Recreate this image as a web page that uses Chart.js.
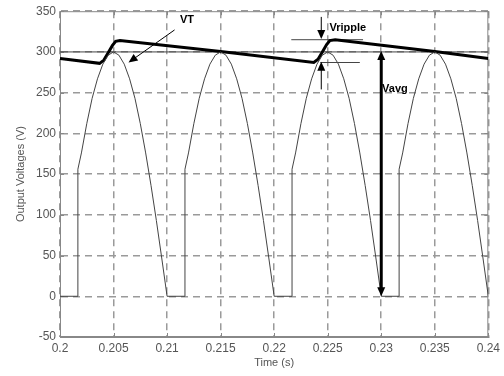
<!DOCTYPE html>
<html>
<head>
<meta charset="utf-8">
<script src="https://cdn.jsdelivr.net/npm/chart.js@4"></script>
<style>
  html, body { margin: 0; padding: 0; background: #fff; }
  #wrap { width: 504px; height: 376px; }
</style>
</head>
<body>
<div id="wrap"><canvas id="chart"></canvas></div>
<script>
// one phase-controlled half cycle, time offsets from the start of each 10 ms period
const humpOffsets = [0, 0.00167, 0.00167, 0.002, 0.0025, 0.003, 0.0035, 0.004, 0.0045, 0.005,
                     0.0055, 0.006, 0.0065, 0.007, 0.0075, 0.008, 0.0085, 0.009, 0.0095, 0.01];
const humpVolts   = [0, 0, 156, 176, 212, 243, 267, 285, 296, 300,
                     296, 285, 267, 243, 212, 176, 136, 93, 47, 0];
const periodStarts = [0.2, 0.21, 0.22, 0.23];

// VT (thick trace)
const vtTime  = [0.2, 0.2037, 0.2041, 0.2045, 0.2049, 0.2052, 0.2056, 0.215, 0.2237,
                 0.2241, 0.2245, 0.2249, 0.2252, 0.2257, 0.235, 0.24];
const vtVolts = [292, 286, 290, 299, 308, 313, 314, 300.5, 287,
                 291, 300, 309, 314, 315, 300.5, 292];

// reference levels
const refLevel = 300;
const rippleTop = 315;
const rippleBottom = 287;

// x and y tick labels
const xTicks = [0.2, 0.205, 0.21, 0.215, 0.22, 0.225, 0.23, 0.235, 0.24];
const yTicks = [-50, 0, 50, 100, 150, 200, 250, 300, 350];

// annotations in data units, arrow head at "to"
const arrows = [
  { from: [0.2244, 343], to: [0.2244, 316], width: 1, both: false },
  { from: [0.2244, 254], to: [0.2244, 288], width: 1, both: false },
  { from: [0.23, 0],     to: [0.23, 301],   width: 3, both: true },
  { from: [0.2107, 327], to: [0.2064, 287], width: 1, both: false }
];
const notes = [
  { text: 'VT',      x: 0.2112,  y: 339 },
  { text: 'Vripple', x: 0.22516, y: 329 },
  { text: 'Vavg',    x: 0.23008, y: 254 }
];

const wavePoints = [];
periodStarts.forEach(t0 => {
  humpOffsets.forEach((d, i) => wavePoints.push({ x: t0 + d, y: humpVolts[i] }));
});
const vtPoints = vtTime.map((t, i) => ({ x: t, y: vtVolts[i] }));

function drawArrow(ctx, x0, y0, x1, y1, w, both) {
  const ang = Math.atan2(y1 - y0, x1 - x0);
  const len = 9, half = 4;
  const head = (tx, ty, a) => {
    ctx.beginPath();
    ctx.moveTo(tx, ty);
    ctx.lineTo(tx - len * Math.cos(a) + half * Math.sin(a), ty - len * Math.sin(a) - half * Math.cos(a));
    ctx.lineTo(tx - len * Math.cos(a) - half * Math.sin(a), ty - len * Math.sin(a) + half * Math.cos(a));
    ctx.closePath();
    ctx.fill();
  };
  ctx.lineWidth = w;
  ctx.beginPath();
  ctx.moveTo(both ? x0 + (len - 2) * Math.cos(ang) : x0, both ? y0 + (len - 2) * Math.sin(ang) : y0);
  ctx.lineTo(x1 - (len - 2) * Math.cos(ang), y1 - (len - 2) * Math.sin(ang));
  ctx.stroke();
  head(x1, y1, ang);
  if (both) head(x0, y0, ang + Math.PI);
}

const overlay = {
  id: 'overlay',
  beforeDatasetsDraw(chart) {
    // frame and small inward tick marks
    const { ctx, chartArea: a, scales: { x, y } } = chart;
    ctx.save();
    ctx.strokeStyle = '#888';
    ctx.lineWidth = 1;
    ctx.strokeRect(a.left + 0.5, a.top + 0.5, a.right - a.left - 1, a.bottom - a.top - 1);
    ctx.beginPath();
    xTicks.forEach(v => {
      const px = Math.round(x.getPixelForValue(v)) + 0.5;
      ctx.moveTo(px, a.bottom); ctx.lineTo(px, a.bottom - 4);
      ctx.moveTo(px, a.top); ctx.lineTo(px, a.top + 4);
    });
    yTicks.forEach(v => {
      const py = Math.round(y.getPixelForValue(v)) + 0.5;
      ctx.moveTo(a.left, py); ctx.lineTo(a.left + 4, py);
      ctx.moveTo(a.right, py); ctx.lineTo(a.right - 4, py);
    });
    ctx.stroke();
    ctx.restore();
  },
  afterDatasetsDraw(chart) {
    const { ctx, scales: { x, y } } = chart;
    ctx.save();
    ctx.strokeStyle = '#000';
    ctx.fillStyle = '#000';
    arrows.forEach(ar => {
      drawArrow(ctx, x.getPixelForValue(ar.from[0]), y.getPixelForValue(ar.from[1]),
                x.getPixelForValue(ar.to[0]), y.getPixelForValue(ar.to[1]), ar.width, ar.both);
    });

    ctx.font = 'bold 11px "Liberation Sans", Arial, sans-serif';
    ctx.textAlign = 'left';
    ctx.textBaseline = 'middle';
    notes.forEach(n => ctx.fillText(n.text, x.getPixelForValue(n.x), y.getPixelForValue(n.y)));
    ctx.restore();
  }
};

const tickFont = { family: '"Liberation Sans", Arial, sans-serif', size: 12 };
const gridOpts = { color: '#9a9a9a', lineWidth: 1.5, drawTicks: false };
const borderOpts = { display: true, color: '#888', dash: [7, 5] };

new Chart(document.getElementById('chart'), {
  type: 'line',
  data: {
    datasets: [
      {
        data: wavePoints,
        borderColor: '#444',
        borderWidth: 1,
        pointRadius: 0
      },
      {
        data: vtPoints,
        borderColor: '#000',
        borderWidth: 3,
        pointRadius: 0
      },
      {
        data: [{ x: 0.2, y: refLevel }, { x: 0.24, y: refLevel }],
        borderColor: '#444',
        borderWidth: 1,
        pointRadius: 0
      },
      {
        data: [{ x: 0.2216, y: rippleTop }, { x: 0.2283, y: rippleTop }],
        borderColor: '#444',
        borderWidth: 1,
        pointRadius: 0
      },
      {
        data: [{ x: 0.2243, y: rippleBottom }, { x: 0.2280, y: rippleBottom }],
        borderColor: '#444',
        borderWidth: 1,
        pointRadius: 0
      }
    ]
  },
  options: {
    responsive: true,
    maintainAspectRatio: false,
    animation: false,
    layout: { padding: { top: 10, right: 13, left: 0, bottom: 0 } },
    plugins: {
      legend: { display: false },
      tooltip: { enabled: false }
    },
    scales: {
      x: {
        type: 'linear',
        min: 0.2,
        max: 0.24,
        afterBuildTicks: (scale) => { scale.ticks = xTicks.map(v => ({ value: v })); },
        afterFit: (scale) => { scale.height = 39; },
        grid: gridOpts,
        border: borderOpts,
        ticks: {
          color: '#555',
          font: tickFont,
          padding: 4,
          maxRotation: 0,
          callback: (v) => String(+(+v).toFixed(3))
        },
        title: {
          display: true,
          text: 'Time (s)',
          color: '#555',
          font: { family: tickFont.family, size: 11 },
          padding: { top: 0, bottom: 6 }
        }
      },
      y: {
        min: -50,
        max: 350,
        afterBuildTicks: (scale) => { scale.ticks = yTicks.map(v => ({ value: v })); },
        afterFit: (scale) => { scale.width = 60; },
        grid: gridOpts,
        border: borderOpts,
        ticks: {
          color: '#555',
          font: tickFont,
          padding: 4
        },
        title: {
          display: true,
          text: 'Output Voltages (V)',
          color: '#555',
          font: { family: tickFont.family, size: 11 },
          padding: { top: 14, bottom: 0 }
        }
      }
    }
  },
  plugins: [overlay]
});
</script>
</body>
</html>
